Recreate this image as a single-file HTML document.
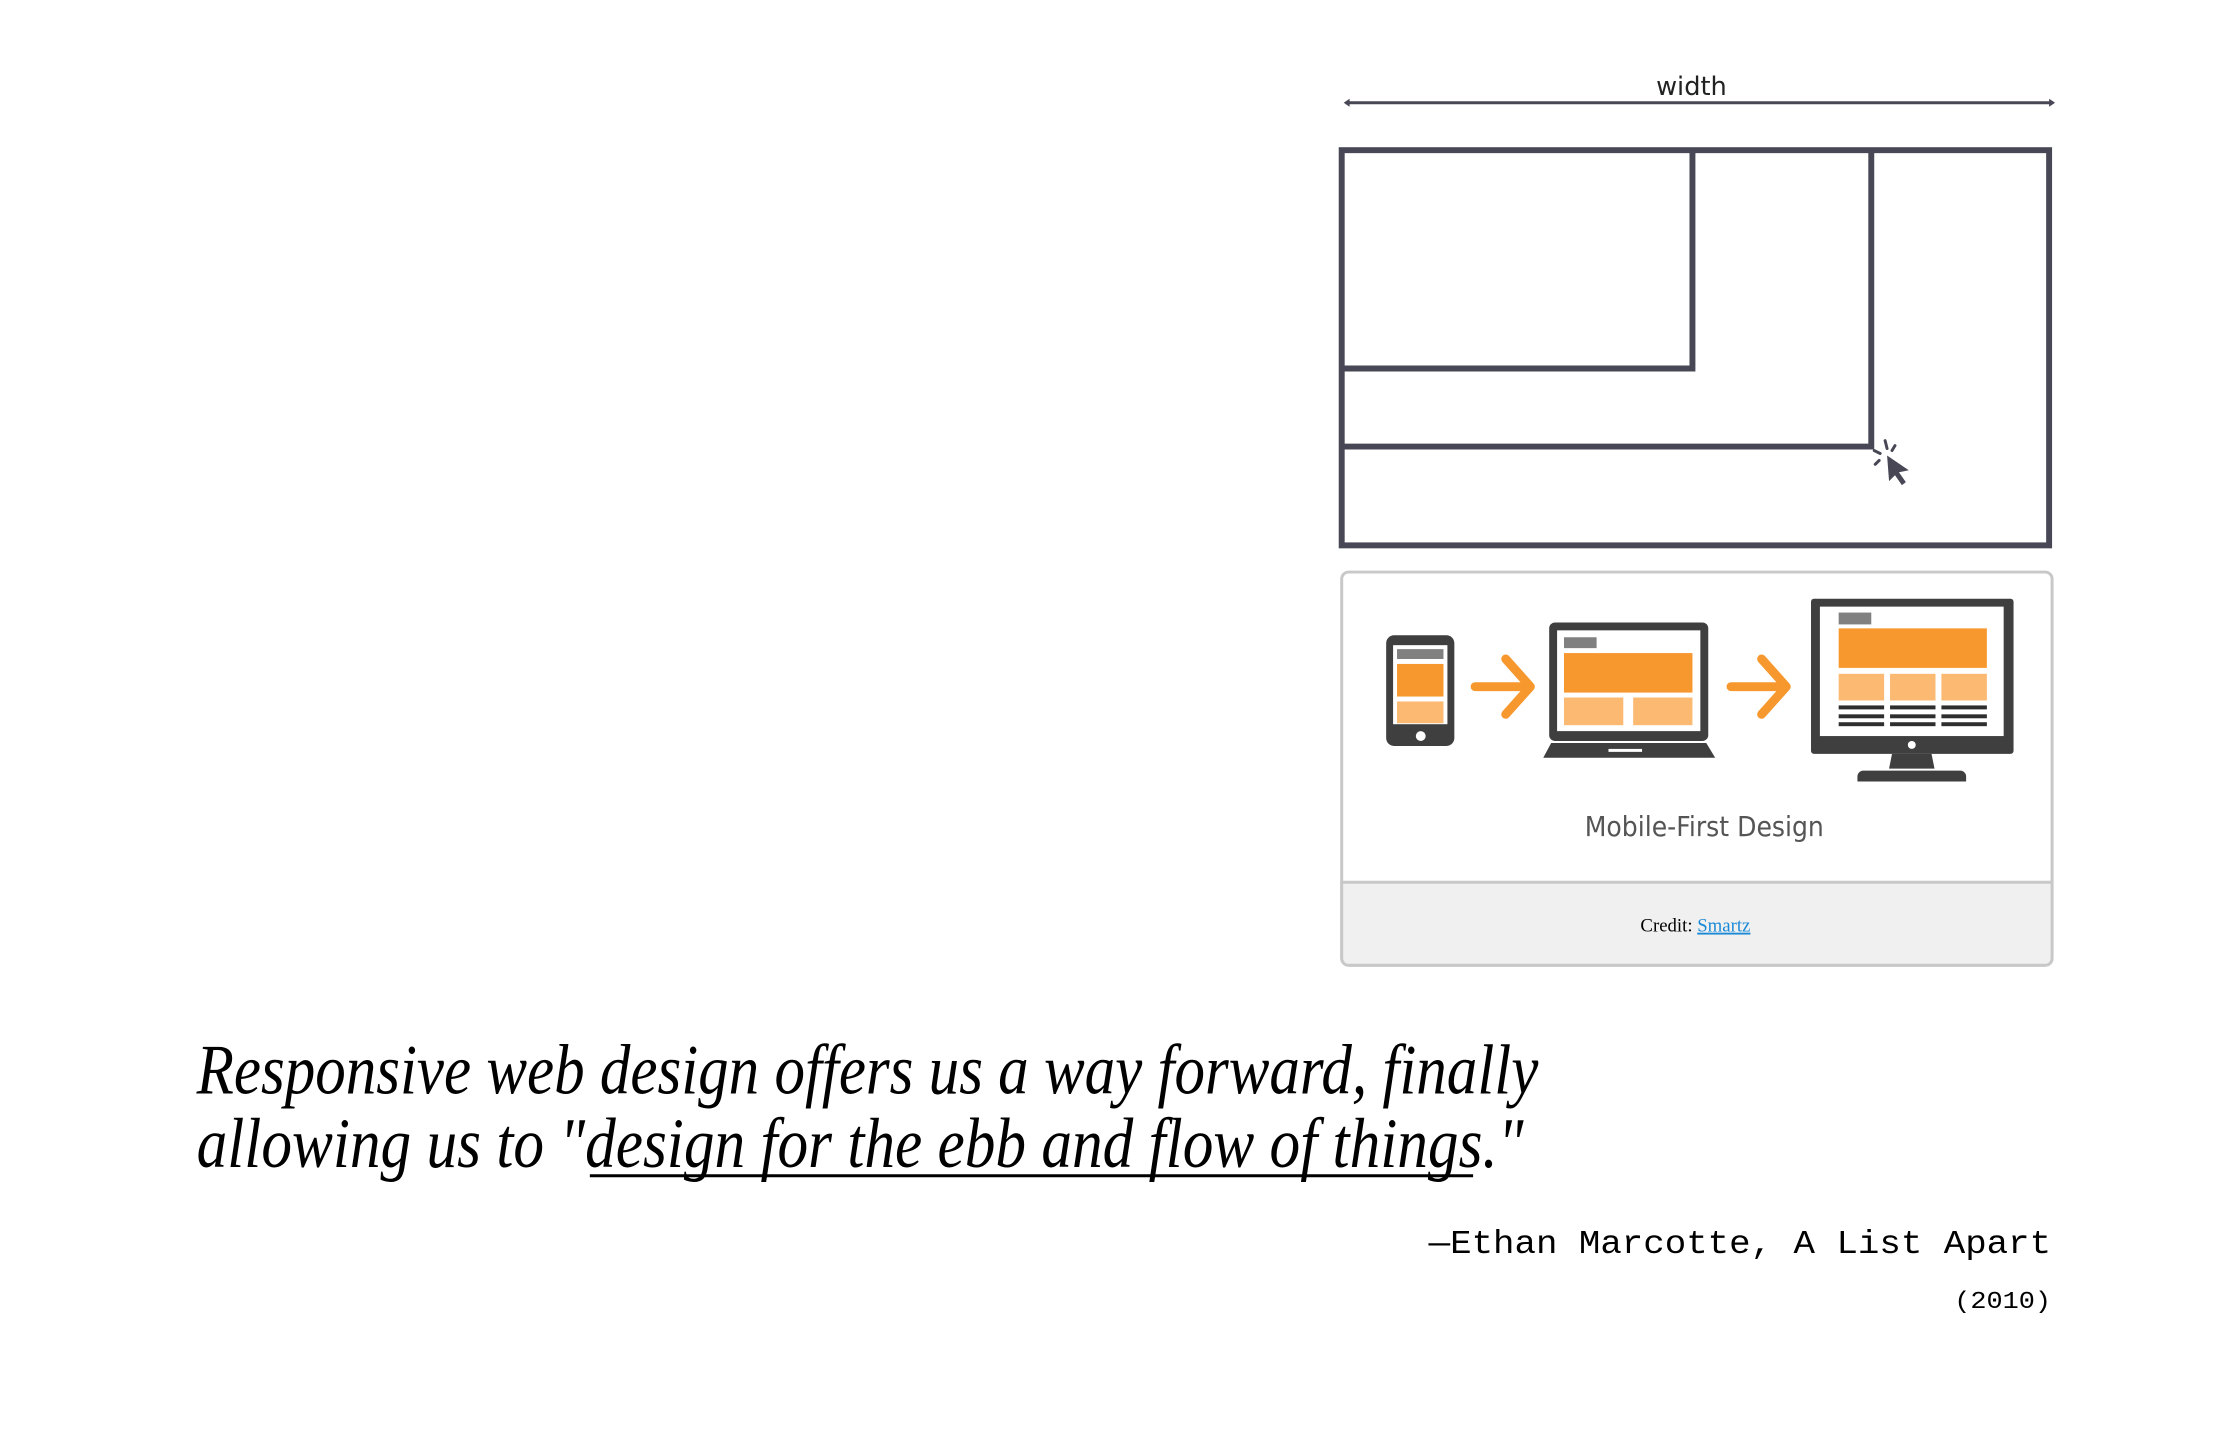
<!DOCTYPE html>
<html><head><meta charset="utf-8"><style>
html,body{margin:0;padding:0;background:#fff;width:2230px;height:1440px;overflow:hidden}
svg{display:block}
</style></head><body>
<svg width="2230" height="1440" viewBox="0 0 2230 1440" xmlns="http://www.w3.org/2000/svg">
<g transform="scale(0.988)">
 <g>
  <text x="1712" y="96" font-family="'Comic Sans MS','DejaVu Sans',sans-serif" font-size="26" text-anchor="middle" fill="#222">width</text>
  <line x1="1362" y1="104" x2="2078" y2="104" stroke="#484755" stroke-width="3"/>
  <path d="M1360 104 l6 -4 v8z M2080 104 l-6 -4 v8z" fill="#484755"/>
  <rect x="1358" y="152" width="716" height="400" fill="none" stroke="#484755" stroke-width="6"/>
  <path d="M1358 373 H1713 V152" fill="none" stroke="#484755" stroke-width="6"/>
  <path d="M1358 452 H1894 V152" fill="none" stroke="#484755" stroke-width="6"/>
  <g fill="#484755" stroke="#484755">
   <path d="M1910 461 L1932 476 L1922 478 L1929 488 L1925 491 L1918 481 L1912 487Z" stroke="none"/>
   <line x1="1908" y1="446" x2="1910" y2="454" stroke-width="3" stroke-linecap="round"/>
   <line x1="1897" y1="456" x2="1903" y2="459" stroke-width="3" stroke-linecap="round"/>
   <line x1="1918" y1="451" x2="1915" y2="456" stroke-width="3" stroke-linecap="round"/>
   <line x1="1898" y1="470" x2="1902" y2="466" stroke-width="3" stroke-linecap="round"/>
  </g>
 </g>
 <g>
  <rect x="1358" y="579" width="719" height="398" rx="7" fill="#fff" stroke="#c8c8c8" stroke-width="3"/>
  <path d="M1358 893 H2077 V970 a7 7 0 0 1 -7 7 H1365 a7 7 0 0 1 -7 -7Z" fill="#f0f0f0" stroke="#c8c8c8" stroke-width="3"/>
  <g>
   <rect x="1403" y="643" width="69" height="112" rx="8" fill="#3f3f3f"/>
   <rect x="1410" y="653" width="55" height="80" fill="#fff"/>
   <rect x="1414" y="657" width="47" height="10" fill="#808080"/>
   <rect x="1414" y="672" width="47" height="33" fill="#f7982e"/>
   <rect x="1414" y="710" width="47" height="22" fill="#fbb972"/>
   <circle cx="1438" cy="745" r="5" fill="#fff"/>
  </g>
  <path d="M1493 695 H1547 M1524 667 L1549 695 L1524 723" fill="none" stroke="#f7982e" stroke-width="9" stroke-linecap="round" stroke-linejoin="round"/>
  <g>
   <rect x="1568" y="630" width="161" height="120" rx="6" fill="#3f3f3f"/>
   <rect x="1576" y="638" width="145" height="102" fill="#fff"/>
   <rect x="1583" y="645" width="33" height="11" fill="#808080"/>
   <rect x="1583" y="661" width="130" height="40" fill="#f7982e"/>
   <rect x="1583" y="706" width="60" height="28" fill="#fbb972"/>
   <rect x="1653" y="706" width="60" height="28" fill="#fbb972"/>
   <path d="M1570 752 H1727 L1736 767 H1562Z" fill="#3f3f3f"/>
   <rect x="1628" y="758" width="34" height="3" fill="#fff"/>
  </g>
  <path d="M1752 695 H1806 M1783 667 L1808 695 L1783 723" fill="none" stroke="#f7982e" stroke-width="9" stroke-linecap="round" stroke-linejoin="round"/>
  <g>
   <rect x="1833" y="606" width="205" height="157" rx="3" fill="#3f3f3f"/>
   <rect x="1842" y="614" width="186" height="131" fill="#fff"/>
   <rect x="1861" y="620" width="33" height="12" fill="#808080"/>
   <rect x="1861" y="636" width="150" height="40" fill="#f7982e"/>
   <rect x="1861" y="682" width="46" height="27" fill="#fbb972"/>
   <rect x="1913" y="682" width="46" height="27" fill="#fbb972"/>
   <rect x="1965" y="682" width="46" height="27" fill="#fbb972"/>
   <g fill="#2e2e2e">
    <rect x="1861" y="714" width="46" height="4"/><rect x="1913" y="714" width="46" height="4"/><rect x="1965" y="714" width="46" height="4"/>
    <rect x="1861" y="723" width="46" height="4"/><rect x="1913" y="723" width="46" height="4"/><rect x="1965" y="723" width="46" height="4"/>
    <rect x="1861" y="731" width="46" height="4"/><rect x="1913" y="731" width="46" height="4"/><rect x="1965" y="731" width="46" height="4"/>
   </g>
   <circle cx="1935" cy="754" r="4" fill="#fff"/>
   <path d="M1915 763 H1955 L1958 778 H1912Z" fill="#3f3f3f"/>
   <path d="M1886 780 H1984 a6 6 0 0 1 6 6 V791 H1880 V786 a6 6 0 0 1 6 -6Z" fill="#3f3f3f"/>
  </g>
  <text x="1725" y="846" font-family="'DejaVu Sans','Liberation Sans',sans-serif" font-size="28" text-anchor="middle" fill="#555" textLength="242" lengthAdjust="spacingAndGlyphs">Mobile-First Design</text>
  <text x="1716" y="943" font-family="'Liberation Serif',serif" font-size="19" text-anchor="middle" fill="#000">Credit: <tspan fill="#1a8ad6" text-decoration="underline">Smartz</tspan></text>
 </g>
 <g font-family="'Liberation Serif',serif" font-style="italic" fill="#000">
  <text x="199" y="1107" font-size="72" textLength="1358" lengthAdjust="spacingAndGlyphs">Responsive web design offers us a way forward, finally</text>
  <text x="199" y="1181" font-size="72" textLength="1343" lengthAdjust="spacingAndGlyphs">allowing us to "design for the ebb and flow of things."</text>
  <line x1="597" y1="1190" x2="1491" y2="1190" stroke="#000" stroke-width="3"/>
 </g>
 <text x="2076" y="1268" font-family="'Liberation Mono',monospace" font-size="34" text-anchor="end" fill="#000" textLength="630" lengthAdjust="spacingAndGlyphs">—Ethan Marcotte, A List Apart</text>
 <text x="2076" y="1324" font-family="'Liberation Mono',monospace" font-size="24" text-anchor="end" fill="#000" textLength="98" lengthAdjust="spacingAndGlyphs">(2010)</text>
</g>
</svg>
</body></html>
